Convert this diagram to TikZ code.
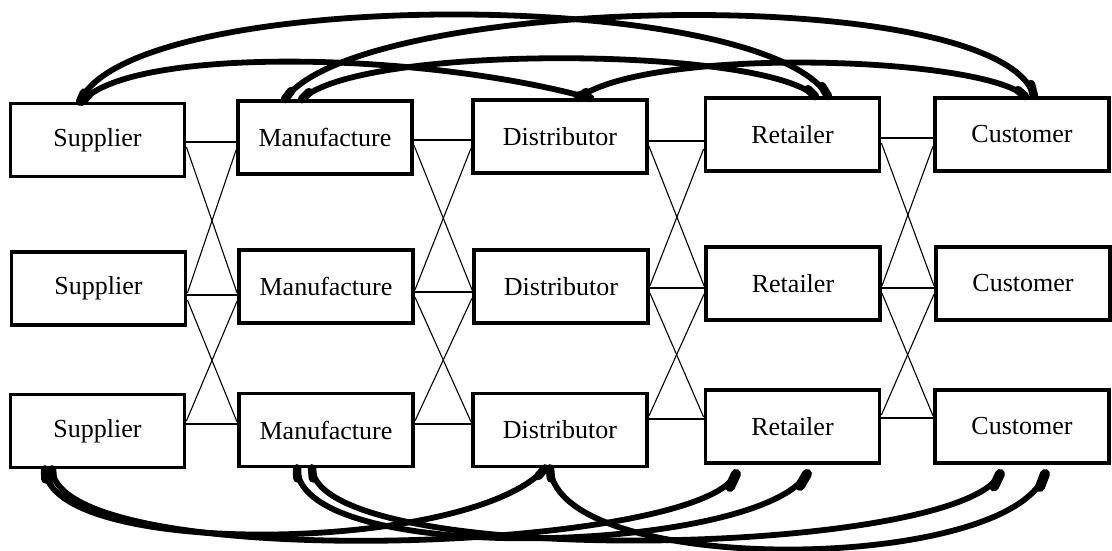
\documentclass[tikz,border=0pt]{standalone}
\usepackage{fontspec}
\setmainfont{Liberation Serif}
\usetikzlibrary{calc}
% thickened stroke end of a flow: start point, then a short run along its tangent
\newcommand\flowtip[3]{\draw[tip] (#1) -- +(#2,#3);}
\newcommand\flowwedge[3]{\draw[wedge] (#1) -- +(#2,#3);}
\begin{document}
\begin{tikzpicture}[x=1pt,y=-1pt,
  box/.style={draw, line width=3.8pt, minimum width=174pt, minimum height=73pt,
    inner sep=0pt, fill=white, font=\fontsize{26}{31}\selectfont},
  link/.style={line width=1.1pt},
  flow/.style={line width=5.8pt, line cap=round},
  tip/.style={line width=8.5pt, line cap=round},
  wedge/.style={line width=10pt, line cap=round}]
\useasboundingbox (0,0) rectangle (1112,550);

% tiers of the chain, three members each
\node[box] (s1) at (97.5,140)   {Supplier};
\node[box] (s2) at (98.5,288.5) {Supplier};
\node[box] (s3) at (97.5,431)   {Supplier};
\node[box] (m1) at (325,137.5)  {Manufacture};
\node[box] (m2) at (326,286.5)  {Manufacture};
\node[box] (m3) at (326,430)    {Manufacture};
\node[box] (d1) at (560,136.5)  {Distributor};
\node[box] (d2) at (561,286.5)  {Distributor};
\node[box] (d3) at (560,430)    {Distributor};
\node[box] (r1) at (792.5,134.5) {Retailer};
\node[box] (r2) at (793,283.5)  {Retailer};
\node[box] (r3) at (792.5,426.5) {Retailer};
\node[box] (c1) at (1022,134.5) {Customer};
\node[box] (c2) at (1023,283.5) {Customer};
\node[box] (c3) at (1022,426.5) {Customer};

% thin links between neighbouring tiers
\foreach \a/\b/\ya/\yb/\yc in {s/m/142/295/424, m/d/140/292/424, d/r/141/288/419, r/c/138/288/418}{
  \draw[link] (\a1.east |- 0,\ya) -- (\b1.west |- 0,\ya);
  \draw[link] (\a2.east |- 0,\yb) -- (\b2.west |- 0,\yb);
  \draw[link] (\a3.east |- 0,\yc) -- (\b3.west |- 0,\yc);
  \draw[link] (\a1.east |- 0,{\ya+5}) -- (\b2.west |- 0,{\yb-2});
  \draw[link] (\a2.east |- 0,{\yb-2}) -- (\b1.west |- 0,{\ya+8});
  \draw[link] (\a2.east |- 0,{\yb+5}) -- (\b3.west |- 0,{\yc-2});
  \draw[link] (\a3.east |- 0,{\yc-3}) -- (\b2.west |- 0,{\yb+6});
}

% long-range flows above the top row
\draw[flow] ([xshift=-17.5pt]s1.north) .. controls +(50,-115) and +(-68,-110) .. ([xshift=35.5pt]r1.north);
\draw[flow] ([xshift=-40pt]m1.north) .. controls +(75,-105) and +(-34,-115) .. ([xshift=12pt]c1.north);
\draw[flow] ([xshift=-15.5pt]s1.north) .. controls +(48,-55) and +(-170,-47) .. ([xshift=30pt]d1.north);
\draw[flow] ([xshift=-23pt]m1.north) .. controls +(58,-55) and +(-55,-50) .. ([xshift=22.5pt]r1.north);
\draw[flow] ([xshift=18pt]d1.north) .. controls +(72,-52) and +(-45,-40) .. ([xshift=3pt]c1.north);

\flowtip{[xshift=-17.5pt]s1.north}{4}{-9}
\flowtip{[xshift=35.5pt]r1.north}{-6}{-10}
\flowtip{[xshift=-40pt]m1.north}{6}{-8}
\flowtip{[xshift=12pt]c1.north}{-3}{-12}
\flowtip{[xshift=-15.5pt]s1.north}{7}{-7}
\flowtip{[xshift=30pt]d1.north}{-10}{-3}
\flowtip{[xshift=-23pt]m1.north}{7}{-7}
\flowtip{[xshift=22.5pt]r1.north}{-7}{-7}
\flowtip{[xshift=18pt]d1.north}{8}{-6}
\flowtip{[xshift=3pt]c1.north}{-7}{-6}

% long-range flows below the bottom row
\draw[flow] ([xshift=-52.5pt]s3.south) .. controls +(5,90) and +(-75,85) .. ([xshift=-15pt]d3.south);
\draw[flow] ([xshift=-45.5pt]s3.south) .. controls +(8,105) and +(-36,79) .. ([xshift=-56.5pt,yshift=-9pt]r3.south);
\draw[flow] ([xshift=-29pt]m3.south) .. controls +(4,100) and +(-47,79) .. ([xshift=14.5pt,yshift=-9pt]r3.south);
\draw[flow] ([xshift=-14pt]m3.south) .. controls +(9,102) and +(-40,83) .. ([xshift=-22pt,yshift=-9pt]c3.south);
\draw[flow] ([xshift=-10pt]d3.south) .. controls +(10,110) and +(-35,99) .. ([xshift=23pt,yshift=-9pt]c3.south);

\flowtip{[xshift=-52.5pt]s3.south}{0.5}{10}
\flowtip{[xshift=-45.5pt]s3.south}{0.8}{10}
\flowtip{[xshift=-29pt]m3.south}{0.4}{10}
\flowtip{[xshift=-14pt]m3.south}{0.9}{10}
\flowtip{[xshift=-10pt]d3.south}{0.9}{10}
\flowtip{[xshift=-15pt]d3.south}{-6.6}{7.5}
\flowwedge{[xshift=-56.5pt,yshift=-9pt]r3.south}{-6}{13}
\flowwedge{[xshift=14.5pt,yshift=-9pt]r3.south}{-7}{12}
\flowwedge{[xshift=-22pt,yshift=-9pt]c3.south}{-6}{12.6}
\flowwedge{[xshift=23pt,yshift=-9pt]c3.south}{-5}{13}
\end{tikzpicture}
\end{document}
